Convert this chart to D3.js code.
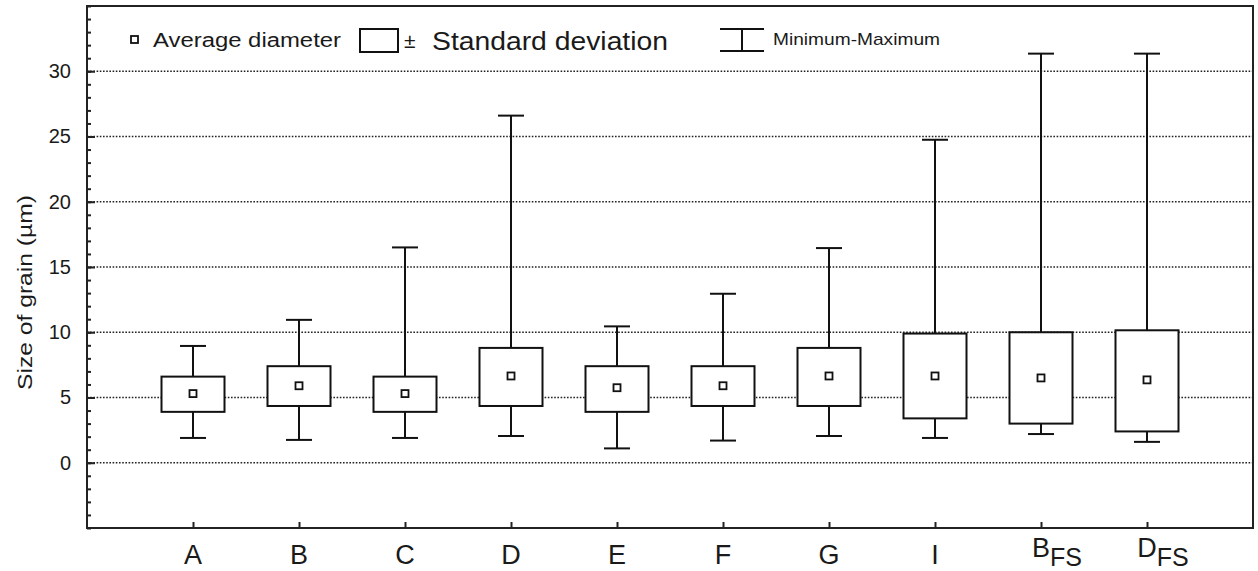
<!DOCTYPE html>
<html>
<head>
<meta charset="utf-8">
<script src="https://cdn.jsdelivr.net/npm/d3@7"></script>
<style>
  html, body { margin: 0; padding: 0; background: #fff; }
  svg { display: block; }
  text { font-family: "Liberation Sans", Arial, sans-serif; fill: #1a1a1a; }
</style>
</head>
<body>
<svg id="chart" width="1258" height="571"></svg>
<script>
// ---- data ----
const categories = ["A", "B", "C", "D", "E", "F", "G", "I", "BFS", "DFS"];
const labelMain  = ["A", "B", "C", "D", "E", "F", "G", "I", "B", "D"];
const labelSub   = ["", "", "", "", "", "", "", "", "FS", "FS"];
const means  = [5.3, 5.9, 5.3, 6.65, 5.75, 5.9, 6.65, 6.65, 6.5, 6.35];
const sdLow  = [3.9, 4.35, 3.9, 4.35, 3.9, 4.35, 4.35, 3.4, 3.0, 2.4];
const sdHigh = [6.6, 7.4, 6.6, 8.8, 7.4, 7.4, 8.8, 9.9, 10.0, 10.15];
const mins   = [1.9, 1.75, 1.9, 2.05, 1.1, 1.7, 2.05, 1.9, 2.2, 1.6];
const maxs   = [8.95, 10.95, 16.5, 26.6, 10.45, 12.95, 16.45, 24.75, 31.35, 31.35];
const yTicks = [0, 5, 10, 15, 20, 25, 30];
const yDomain = [-5, 35];
const yTitle = "Size of grain (µm)";
const legendLabels = ["Average diameter", "Standard deviation", "Minimum-Maximum"];

// ---- layout ----
const svg = d3.select("#chart");
const pL = 87, pR = 1253, pT = 6, pB = 528;

const x = d3.scalePoint().domain(categories).range([pL, pR]).padding(1);
const y = d3.scaleLinear().domain(yDomain).range([pB, pT]);

const rows = categories.map((c, i) => ({
  c, mean: means[i], lo: sdLow[i], hi: sdHigh[i], min: mins[i], max: maxs[i],
  main: labelMain[i], sub: labelSub[i]
}));

svg.append("rect").attr("width", 1258).attr("height", 571).attr("fill", "#fff");

// grid
svg.append("g").selectAll("line").data(yTicks).join("line")
  .attr("x1", pL).attr("x2", pR)
  .attr("y1", d => y(d)).attr("y2", d => y(d))
  .attr("stroke", "#222").attr("stroke-width", 1.4)
  .attr("stroke-dasharray", "1.6,1.6");

// whiskers
const boxW = 63, capW = 26;
const g = svg.append("g");
g.selectAll(".wu").data(rows).join("line")
  .attr("x1", d => x(d.c)).attr("x2", d => x(d.c))
  .attr("y1", d => y(d.hi)).attr("y2", d => y(d.max))
  .attr("stroke", "#111").attr("stroke-width", 2);
g.selectAll(".wl").data(rows).join("line")
  .attr("x1", d => x(d.c)).attr("x2", d => x(d.c))
  .attr("y1", d => y(d.lo)).attr("y2", d => y(d.min))
  .attr("stroke", "#111").attr("stroke-width", 2);
g.selectAll(".cu").data(rows).join("line")
  .attr("x1", d => x(d.c) - capW / 2).attr("x2", d => x(d.c) + capW / 2)
  .attr("y1", d => y(d.max)).attr("y2", d => y(d.max))
  .attr("stroke", "#111").attr("stroke-width", 2);
g.selectAll(".cl").data(rows).join("line")
  .attr("x1", d => x(d.c) - capW / 2).attr("x2", d => x(d.c) + capW / 2)
  .attr("y1", d => y(d.min)).attr("y2", d => y(d.min))
  .attr("stroke", "#111").attr("stroke-width", 2);
// boxes
g.selectAll(".box").data(rows).join("rect")
  .attr("x", d => x(d.c) - boxW / 2).attr("width", boxW)
  .attr("y", d => y(d.hi)).attr("height", d => y(d.lo) - y(d.hi))
  .attr("fill", "#fff").attr("stroke", "#111").attr("stroke-width", 2);
// mean markers
g.selectAll(".mean").data(rows).join("rect")
  .attr("x", d => x(d.c) - 3.5).attr("y", d => y(d.mean) - 3.5)
  .attr("width", 7).attr("height", 7)
  .attr("fill", "#fff").attr("stroke", "#111").attr("stroke-width", 1.8);

// y axis: minor ticks
const yMinor = d3.range(yDomain[0], yDomain[1] + 1, 1);
svg.append("g").attr("transform", `translate(${pL},0)`)
  .call(d3.axisLeft(y).tickValues(yMinor).tickSize(-4).tickFormat(""))
  .call(s => s.select(".domain").remove())
  .call(s => s.selectAll("line").attr("stroke", "#222").attr("stroke-width", 2));
// y axis: major ticks
svg.append("g").attr("transform", `translate(${pL},0)`)
  .call(d3.axisLeft(y).tickValues(yTicks).tickSize(-8).tickPadding(16).tickFormat(d3.format("d")))
  .call(s => s.select(".domain").remove())
  .call(s => s.selectAll("line").attr("stroke", "#222").attr("stroke-width", 2))
  .call(s => s.selectAll("text").attr("font-size", 20).attr("fill", "#1a1a1a")
    .attr("font-family", "'Liberation Sans', Arial, sans-serif"));

// x axis
svg.append("g").attr("transform", `translate(0,${pB})`)
  .call(d3.axisBottom(x).tickSize(-6).tickFormat(""))
  .call(s => s.select(".domain").remove())
  .call(s => s.selectAll("line").attr("stroke", "#222").attr("stroke-width", 2));

const xl = svg.append("g");
rows.forEach(d => {
  const t = xl.append("text")
    .attr("x", x(d.c)).attr("y", d.sub ? 557 : 564)
    .attr("text-anchor", "middle").attr("font-size", 27).text(d.main);
  if (d.sub) {
    const w = t.node().getComputedTextLength();
    xl.append("text").attr("x", x(d.c) + w / 2).attr("y", 566)
      .attr("font-size", 25).text(d.sub);
  }
});

// frame
svg.append("rect").attr("x", pL).attr("y", pT)
  .attr("width", pR - pL).attr("height", pB - pT)
  .attr("fill", "none").attr("stroke", "#222").attr("stroke-width", 2);

// y title
svg.append("text")
  .attr("transform", `translate(32,${(195 + 390) / 2}) rotate(-90)`)
  .attr("text-anchor", "middle").attr("font-size", 21)
  .attr("fill", "#2a2222")
  .attr("textLength", 195).attr("lengthAdjust", "spacingAndGlyphs")
  .text(yTitle);

// legend
const lg = svg.append("g");
lg.append("rect").attr("x", 131).attr("y", 36).attr("width", 7).attr("height", 7)
  .attr("fill", "#fff").attr("stroke", "#111").attr("stroke-width", 1.8);
lg.append("text").attr("x", 153).attr("y", 47).attr("font-size", 20)
  .attr("font-family", "'Open Sans', 'Noto Sans', sans-serif")
  .attr("textLength", 188).attr("lengthAdjust", "spacingAndGlyphs")
  .text(legendLabels[0]);
lg.append("rect").attr("x", 360).attr("y", 29).attr("width", 38).attr("height", 23)
  .attr("fill", "#fff").attr("stroke", "#111").attr("stroke-width", 2);
lg.append("text").attr("x", 404).attr("y", 48).attr("font-size", 21).text("±");
lg.append("text").attr("x", 432).attr("y", 50).attr("font-size", 25)
  .attr("textLength", 236).attr("lengthAdjust", "spacingAndGlyphs")
  .text(legendLabels[1]);
lg.append("line").attr("x1", 720).attr("x2", 764).attr("y1", 29).attr("y2", 29)
  .attr("stroke", "#111").attr("stroke-width", 2);
lg.append("line").attr("x1", 720).attr("x2", 764).attr("y1", 51).attr("y2", 51)
  .attr("stroke", "#111").attr("stroke-width", 2);
lg.append("line").attr("x1", 742).attr("x2", 742).attr("y1", 29).attr("y2", 51)
  .attr("stroke", "#111").attr("stroke-width", 2);
lg.append("text").attr("x", 773).attr("y", 45).attr("font-size", 17)
  .attr("textLength", 167).attr("lengthAdjust", "spacingAndGlyphs")
  .text(legendLabels[2]);
</script>
</body>
</html>
